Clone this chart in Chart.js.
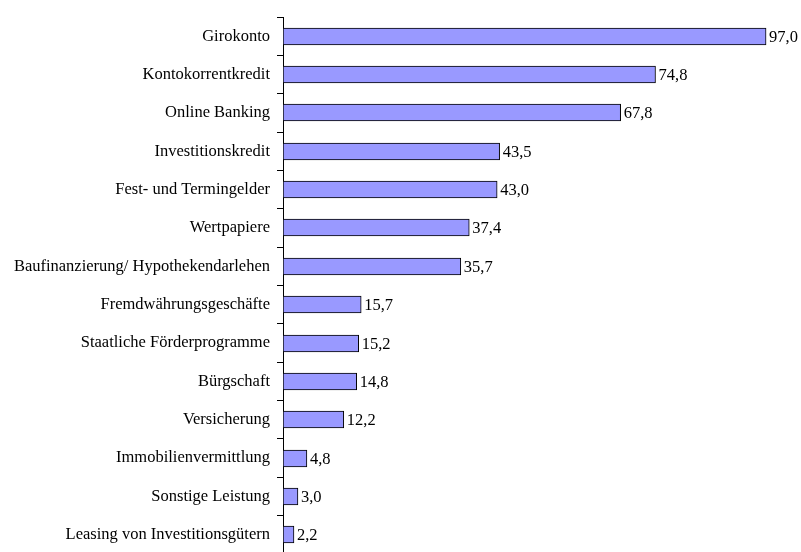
<!DOCTYPE html>
<html>
<head>
<meta charset="utf-8">
<script src="https://cdn.jsdelivr.net/npm/chart.js@4/dist/chart.umd.min.js"></script>
<style>
  html, body { margin: 0; padding: 0; background: #fff; }
  #wrap { width: 801px; height: 552px; }
</style>
</head>
<body>
<div id="wrap"><canvas id="chart" width="801" height="552"></canvas></div>
<script>
const categories = [
  "Girokonto",
  "Kontokorrentkredit",
  "Online Banking",
  "Investitionskredit",
  "Fest- und Termingelder",
  "Wertpapiere",
  "Baufinanzierung/ Hypothekendarlehen",
  "Fremdwährungsgeschäfte",
  "Staatliche Förderprogramme",
  "Bürgschaft",
  "Versicherung",
  "Immobilienvermittlung",
  "Sonstige Leistung",
  "Leasing von Investitionsgütern"
];
const shares = [97.0, 74.8, 67.8, 43.5, 43.0, 37.4, 35.7, 15.7, 15.2, 14.8, 12.2, 4.8, 3.0, 2.2];
const axisMax = 100;

const serif = "'Liberation Serif', 'Times New Roman', serif";

// the original plot runs a little past the bottom edge of the picture
const extendBottom = {
  id: "extendBottom",
  afterLayout(chart) {
    const y = chart.scales.y;
    const bottom = 554;
    y.bottom = bottom;
    y.height = bottom - y.top;
    chart.chartArea.bottom = bottom;
    chart.chartArea.height = bottom - chart.chartArea.top;
    y.configure();
  }
};

// snap bar centres so the 1px outlines come out sharp
const crispBars = {
  id: "crispBars",
  beforeDatasetsDraw(chart) {
    chart.getDatasetMeta(0).data.forEach((bar) => {
      bar.y = Math.floor(bar.y) + 0.5;
    });
  }
};

// prints the value next to every bar, german decimal comma
const valueLabels = {
  id: "valueLabels",
  afterDatasetsDraw(chart) {
    const ctx = chart.ctx;
    const meta = chart.getDatasetMeta(0);
    ctx.save();
    ctx.font = "16.5px " + serif;
    ctx.fillStyle = "#000";
    ctx.textAlign = "left";
    ctx.textBaseline = "middle";
    meta.data.forEach((bar, i) => {
      ctx.fillText(shares[i].toFixed(1).replace(".", ","), bar.x + 3, bar.y + 1);
    });
    ctx.restore();
  }
};

new Chart("chart", {
  type: "bar",
  data: {
    labels: categories,
    datasets: [{
      data: shares,
      backgroundColor: "#9999FF",
      borderColor: "#000",
      borderWidth: 1,
      borderSkipped: false,
      barThickness: 17
    }]
  },
  options: {
    indexAxis: "y",
    responsive: false,
    animation: false,
    layout: { padding: { top: 17, right: 20, bottom: 0, left: 0 } },
    plugins: {
      legend: { display: false },
      tooltip: { enabled: false }
    },
    scales: {
      x: {
        display: false,
        min: 0,
        max: axisMax
      },
      y: {
        afterFit(scale) {
          scale.width = 283;
          scale.paddingTop = 0;
          scale.paddingBottom = 0;
        },
        border: { display: true, color: "#000", width: 1 },
        grid: {
          offset: true,
          drawOnChartArea: false,
          drawTicks: true,
          tickLength: 6,
          color: "#000"
        },
        ticks: {
          color: "#000",
          padding: 7,
          font: { family: serif, size: 16.5 }
        }
      }
    }
  },
  plugins: [extendBottom, crispBars, valueLabels]
});
</script>
</body>
</html>
